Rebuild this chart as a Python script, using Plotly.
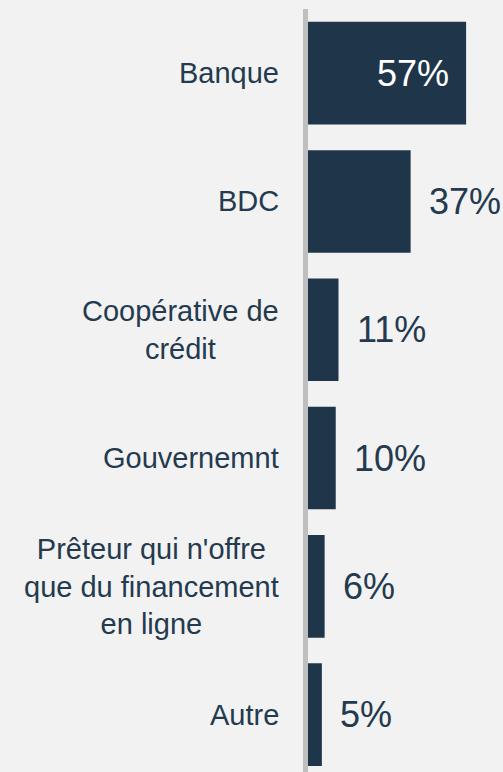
import plotly.graph_objects as go

categories = ["Banque", "BDC", "Coopérative de<br>crédit", "Gouvernemnt",
              "Prêteur qui n'offre<br>que du financement<br>en ligne", "Autre"]
values = [57, 37, 11, 10, 6, 5]
value_labels = ["57%", "37%", "11%", "10%", "6%", "5%"]
inside_flags = [True, False, False, False, False, False]

BAR = "#1f364a"
TXT = "#243a4f"
BG = "#f2f2f2"
FONT = "Liberation Sans, Arial, sans-serif"

fig = go.Figure(go.Bar(
    x=values, y=categories, orientation="h",
    marker=dict(color=BAR, line=dict(width=0)),
    hoverinfo="skip",
))

annotations = []
for cat in categories:
    annotations.append(dict(
        x=0, xref="paper", y=cat, yref="y", text=cat,
        xanchor="right", yanchor="middle", align="center",
        xshift=-27, showarrow=False,
        font=dict(family=FONT, size=29, color=TXT),
    ))
for cat, v, lab, inside in zip(categories, values, value_labels, inside_flags):
    annotations.append(dict(
        x=v, xref="x", y=cat, yref="y", text=lab,
        xanchor="right" if inside else "left", yanchor="middle",
        xshift=-15 if inside else 16, showarrow=False,
        font=dict(family=FONT, size=36, color="#ffffff" if inside else TXT),
    ))

fig.update_layout(
    width=503, height=772,
    margin=dict(l=308, r=0, t=9, b=0, pad=0),
    paper_bgcolor=BG, plot_bgcolor=BG,
    bargap=0.2, showlegend=False,
    annotations=annotations,
    xaxis=dict(range=[0, 70.3], visible=False, fixedrange=True),
    yaxis=dict(type="category", categoryorder="array", categoryarray=categories,
               range=[5.447, -0.5], showticklabels=False, ticks="",
               showgrid=False, zeroline=False,
               showline=True, linecolor="#bfbfbf", linewidth=5),
)

fig.write_html(
    "out.html",
    config={"displayModeBar": False, "staticPlot": True},
    post_script="document.body.style.margin='0';document.body.style.background='#f2f2f2';document.body.style.overflow='hidden';",
)
